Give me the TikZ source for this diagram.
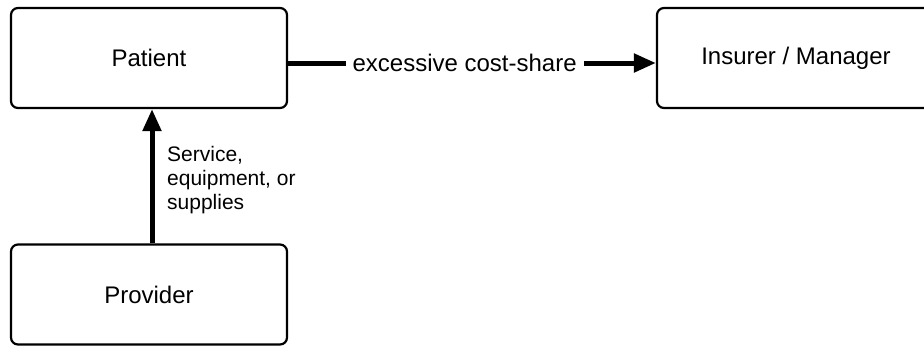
\documentclass[tikz,border=0pt]{standalone}
\usepackage{fontspec}
\setmainfont{Liberation Sans}
\usetikzlibrary{arrows.meta}
\begin{document}
\begin{tikzpicture}[x=1pt,y=-1pt,
  box/.style={draw=black,line width=2.2pt,rounded corners=7pt,fill=white,inner sep=0pt},
  bigtxt/.style={font=\fontsize{24}{28}\selectfont},
  flow/.style={line width=5pt,-{Triangle[length=22pt,width=18pt]}}]
\useasboundingbox (0,0) rectangle (924,346);
\clip (0,0) rectangle (924,346);
\node[box,bigtxt,minimum width=276pt,minimum height=100pt] (patient) at (149,58) {Patient};
\node[box,bigtxt,minimum width=276pt,minimum height=100pt] (provider) at (149,294.5) {Provider};
\node[box,bigtxt,minimum width=278pt,minimum height=100pt] (insurer) at (796,58) {Insurer / Manager};
\coordinate (pa) at (patient.east |- 0,63);
\coordinate (ia) at (insurer.west |- 0,63);
\draw[flow] (pa) -- node[pos=0.48,fill=white,inner sep=7pt,bigtxt] (cost) {excessive cost-share} (ia);
\coordinate (pb) at (152,0);
\draw[flow] (provider.north -| pb) -- (patient.south -| pb);
\node[anchor=north west,align=left,inner sep=0pt,font=\fontsize{21}{24}\selectfont] (svc) at (167,146) {Service,\\equipment, or\\supplies};
\end{tikzpicture}
\end{document}
